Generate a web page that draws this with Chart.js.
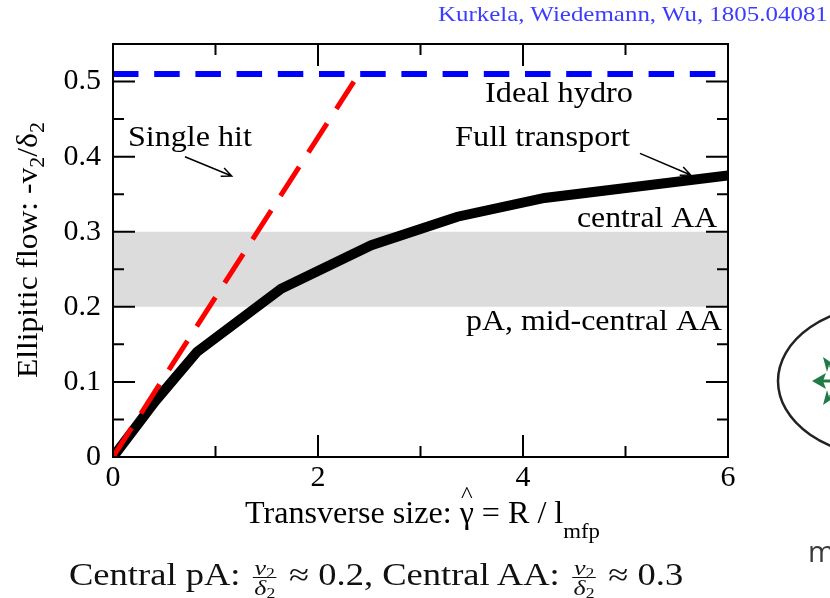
<!DOCTYPE html>
<html>
<head>
<meta charset="utf-8">
<script src="https://cdn.jsdelivr.net/npm/chart.js@4.4.1/dist/chart.umd.min.js"></script>
<style>
  html, body { margin: 0; padding: 0; background: #fff; }
  #wrap { position: relative; width: 830px; height: 598px; overflow: hidden; background: #fff; }
  #chart { position: absolute; left: 0; top: 0; }
  .slide-text { position: absolute; white-space: nowrap; transform-origin: 0 0; }
  #cite { left: 438px; top: 3px; font: 22px/22px 'Liberation Serif', serif; color: #3c3cff; }
  #note { left: 69px; top: 558px; font: 31px/30px 'Liberation Serif', serif; color: #111; }
  .frac { display: inline-block; vertical-align: -10px; text-align: center; font-size: 22px; margin: 0 3px; }
  .frac .num { display: block; line-height: 19px; border-bottom: 1px solid #111; padding: 0 1px; }
  .frac .den { display: block; line-height: 19px; padding: 0 1px; }
  .frac sub { font-size: 15px; vertical-align: -3px; line-height: 0; }
  #cut { left: 808px; top: 536px; font: 29px/29px 'Open Sans', sans-serif; color: #3a3a3a; }
  #sketch { position: absolute; left: 0; top: 0; }
</style>
</head>
<body>
<div id="wrap">
  <canvas id="chart" width="830" height="598"></canvas>
  <svg id="sketch" width="830" height="598" viewBox="0 0 830 598">
    <ellipse cx="888" cy="381" rx="110" ry="76" fill="none" stroke="#222" stroke-width="2.5"/>
    <g fill="#1e7b45" stroke="#1e7b45">
      <line x1="843" y1="381" x2="822" y2="381" stroke-width="3"/>
      <polygon points="812,381 826,373 823,381 826,389" stroke="none"/>
      <line x1="843" y1="381" x2="830" y2="365" stroke-width="3"/>
      <polygon points="823,357 836,366 829,365 827,372" stroke="none"/>
      <line x1="843" y1="381" x2="830" y2="397" stroke-width="3"/>
      <polygon points="823,405 827,390 829,397 836,396" stroke="none"/>
    </g>
  </svg>
  <div id="cite" class="slide-text">Kurkela, Wiedemann, Wu, 1805.04081</div>
  <div id="note" class="slide-text">Central pA: <span class="frac"><span class="num"><i>v</i><sub>2</sub></span><span class="den"><i>δ</i><sub>2</sub></span></span> ≈ 0.2, Central AA: <span class="frac"><span class="num"><i>v</i><sub>2</sub></span><span class="den"><i>δ</i><sub>2</sub></span></span> ≈ 0.3</div>
  <div id="cut" class="slide-text">m</div>
</div>
<script>
// Full transport curve, elliptic flow response vs. transverse size
const transportX = [0, 0.41, 0.82, 1.64, 2.52, 3.36, 4.21, 6];
const transportY = [0, 0.074, 0.140, 0.224, 0.282, 0.320, 0.345, 0.375];
// Single-hit (linear) limit
const singleHitX = [0, 2.35];
const singleHitY = [0, 0.50];
// Ideal hydro limit
const hydroX = [0, 6];
const hydroY = [0.51, 0.51];
// Shaded range of measured v2/delta2
const bandX = [0, 6];
const bandLow = [0.2, 0.2];
const bandHigh = [0.3, 0.3];
// Axis tick labels
const xTickLabels = ['0', '2', '4', '6'];
const yTickLabels = ['0', '0.1', '0.2', '0.3', '0.4', '0.5'];

const pts = (xs, ys) => xs.map((v, i) => ({ x: v, y: ys[i] }));

const SERIF = "'Liberation Serif', 'Times New Roman', serif";

// Text stretched horizontally to a given width
function drawFitted(ctx, text, x, y, size, width, align) {
  ctx.save();
  ctx.font = size + 'px ' + SERIF;
  const w = ctx.measureText(text).width;
  const sx = width / w;
  ctx.translate(x, y);
  ctx.scale(sx, 1);
  ctx.textBaseline = 'alphabetic';
  ctx.textAlign = 'left';
  ctx.fillText(text, align === 'right' ? -w : 0, 0);
  ctx.restore();
}

// Mixed run of text parts (sub/superscripts, hats), fitted to a width
function drawRich(ctx, parts, x, y, width, angle) {
  ctx.save();
  ctx.translate(x, y);
  if (angle) ctx.rotate(angle);
  let natural = 0;
  parts.forEach(p => {
    ctx.font = p.size + 'px ' + SERIF;
    p.w = ctx.measureText(p.text).width;
    natural += p.w;
  });
  ctx.scale(width / natural, 1);
  ctx.textBaseline = 'alphabetic';
  ctx.textAlign = 'left';
  let cx = 0;
  parts.forEach(p => {
    ctx.font = p.size + 'px ' + SERIF;
    ctx.fillText(p.text, cx, p.dy || 0);
    if (p.hat) {
      ctx.font = p.hat.size + 'px ' + SERIF;
      const hw = ctx.measureText('^').width;
      ctx.fillText('^', cx + (p.w - hw) / 2, p.hat.dy);
    }
    cx += p.w;
  });
  ctx.restore();
}

function drawPointer(ctx, x1, y1, x2, y2) {
  const a = Math.atan2(y2 - y1, x2 - x1);
  const L = 11, spread = 0.42;
  ctx.beginPath();
  ctx.moveTo(x1, y1);
  ctx.lineTo(x2, y2);
  ctx.moveTo(x2 - L * Math.cos(a - spread), y2 - L * Math.sin(a - spread));
  ctx.lineTo(x2, y2);
  ctx.lineTo(x2 - L * Math.cos(a + spread), y2 - L * Math.sin(a + spread));
  ctx.stroke();
}

// In-plot labels, placed in axis units
const notes = [
  { text: 'Ideal hydro', x: 3.629, y: 0.4728, align: 'left', width: 148 },
  { text: 'Single hit', x: 0.146, y: 0.4142, align: 'left', width: 124 },
  { text: 'Full transport', x: 3.337, y: 0.4142, align: 'left', width: 175 },
  { text: 'central AA', x: 5.893, y: 0.3067, align: 'right', width: 140 },
  { text: 'pA, mid-central AA', x: 5.941, y: 0.1691, align: 'right', width: 256 }
];
const pointers = [
  { from: [0.702, 0.3999], to: [1.158, 0.3742] },
  { from: [5.141, 0.4044], to: [5.636, 0.3756] }
];

// Boxed frame with inward major/minor ticks on all four sides
const frameTicks = {
  id: 'frameTicks',
  afterDatasetsDraw(chart) {
    const { ctx, chartArea: a, scales: { x, y } } = chart;
    ctx.save();
    ctx.strokeStyle = '#000';
    ctx.lineWidth = 2;
    ctx.lineCap = 'butt';
    ctx.beginPath();
    // x: minor every 1, major every 2
    for (let i = 0; i <= 6; i++) {
      const px = x.getPixelForValue(i);
      const len = i % 2 === 0 ? 22 : 11;
      ctx.moveTo(px, a.bottom); ctx.lineTo(px, a.bottom - len);
      ctx.moveTo(px, a.top); ctx.lineTo(px, a.top + len);
    }
    // y: minor every 0.05, major every 0.1
    for (let j = 0; j <= 11; j++) {
      const py = y.getPixelForValue(j * 0.05);
      const len = j % 2 === 0 ? 22 : 11;
      ctx.moveTo(a.left, py); ctx.lineTo(a.left + len, py);
      ctx.moveTo(a.right, py); ctx.lineTo(a.right - len, py);
    }
    ctx.stroke();
    ctx.strokeRect(a.left, a.top, a.right - a.left, a.bottom - a.top);
    ctx.restore();
  },
  afterDraw(chart) {
    const { ctx, scales: { x, y } } = chart;
    ctx.save();
    ctx.fillStyle = '#000';
    notes.forEach(n => {
      drawFitted(ctx, n.text, x.getPixelForValue(n.x), y.getPixelForValue(n.y), 29.5, n.width, n.align);
    });
    ctx.strokeStyle = '#000';
    ctx.lineWidth = 1.5;
    pointers.forEach(p => {
      drawPointer(ctx, x.getPixelForValue(p.from[0]), y.getPixelForValue(p.from[1]),
                       x.getPixelForValue(p.to[0]), y.getPixelForValue(p.to[1]));
    });
    // axis titles
    drawRich(ctx, [
      { text: 'Transverse size: ', size: 31 },
      { text: 'γ', size: 31, hat: { size: 24, dy: -21 } },
      { text: ' = R / l', size: 31 },
      { text: 'mfp', size: 22, dy: 15 }
    ], 245, 523, 355, 0);
    drawRich(ctx, [
      { text: 'Ellipitic flow: -v', size: 30 },
      { text: '2', size: 21, dy: 7 },
      { text: '/δ', size: 30 },
      { text: '2', size: 21, dy: 7 }
    ], 37, 378, 256, -Math.PI / 2);
    ctx.restore();
  }
};

const AREA = { left: 113, right: 728, top: 44, bottom: 457 };
const W = 830, H = 598, XAXIS_H = 60;

new Chart(document.getElementById('chart'), {
  type: 'line',
  data: {
    datasets: [
      { label: 'Ideal hydro', data: pts(hydroX, hydroY), borderColor: '#0000ff', borderWidth: 6,
        borderDash: [25.5, 15.7], pointRadius: 0, fill: false, order: 1 },
      { label: 'Single hit', data: pts(singleHitX, singleHitY), borderColor: '#ff0000', borderWidth: 5,
        borderDash: [34.5, 17.2], pointRadius: 0, fill: false, order: 2 },
      { label: 'Full transport', data: pts(transportX, transportY), borderColor: '#000000', borderWidth: 10,
        pointRadius: 0, fill: false, order: 3 },
      { label: 'band low', data: pts(bandX, bandLow), borderColor: 'rgba(0,0,0,0)', borderWidth: 1,
        pointRadius: 0, fill: false, order: 10 },
      { label: 'band high', data: pts(bandX, bandHigh), borderColor: 'rgba(0,0,0,0)', borderWidth: 1,
        pointRadius: 0, fill: '-1', backgroundColor: '#dcdcdc', order: 9 }
    ]
  },
  options: {
    responsive: false,
    animation: false,
    devicePixelRatio: 1,
    events: [],
    layout: { padding: { left: 0, right: W - AREA.right, top: AREA.top, bottom: H - AREA.bottom - XAXIS_H } },
    plugins: { legend: { display: false }, tooltip: { enabled: false } },
    scales: {
      x: {
        type: 'linear', min: 0, max: 6,
        grid: { display: false, drawTicks: false }, border: { display: false },
        ticks: { stepSize: 2, padding: 3, color: '#000', maxRotation: 0,
                 font: { family: SERIF, size: 30 },
                 callback: (v, i) => xTickLabels[i] },
        afterFit: s => { s.height = XAXIS_H; }
      },
      y: {
        type: 'linear', min: 0, max: 0.55,
        grid: { display: false, drawTicks: false }, border: { display: false },
        ticks: { stepSize: 0.1, includeBounds: false, padding: 12, color: '#000',
                 font: { family: SERIF, size: 30 },
                 callback: (v, i) => yTickLabels[i] },
        afterFit: s => { s.width = AREA.left; }
      }
    }
  },
  plugins: [frameTicks]
});

// stretch slide text lines to their set widths
function fitWidth(id, target) {
  const el = document.getElementById(id);
  el.style.transform = 'scaleX(' + (target / el.offsetWidth) + ')';
}
fitWidth('cite', 390);
fitWidth('note', 614);
</script>
</body>
</html>
